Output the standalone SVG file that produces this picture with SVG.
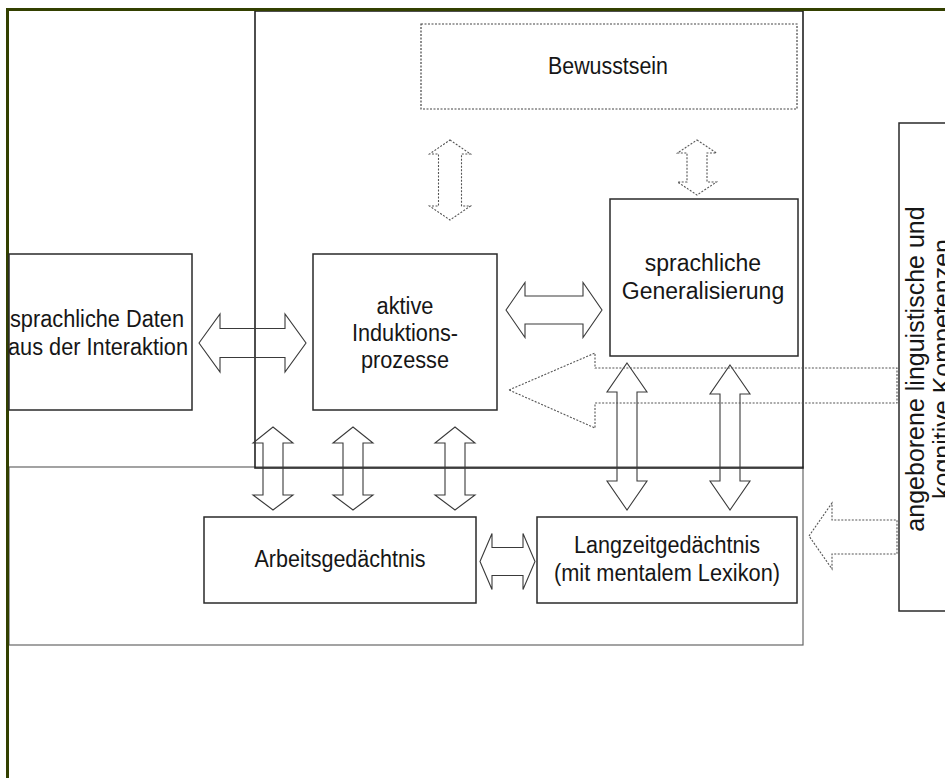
<svg xmlns="http://www.w3.org/2000/svg" width="945" height="778" viewBox="0 0 945 778">
<style>
  .box { fill: none; stroke: #2a2a2a; stroke-width: 1.5; }
  .dbox { fill: none; stroke: #444; stroke-width: 1.2; stroke-dasharray: 2 1.5; }
  .arr { fill: none; stroke: #3a3a3a; stroke-width: 1.1; stroke-linejoin: miter; }
  .darr { fill: none; stroke: #555; stroke-width: 1.1; stroke-dasharray: 2 1.5; }
  .t { font-family: "Liberation Sans", Arial, sans-serif; font-size: 23px; fill: #161616; text-anchor: middle; }
  .tr { font-family: "Liberation Sans", Arial, sans-serif; font-size: 25px; fill: #161616; text-anchor: middle; }
</style>
<rect width="945" height="778" fill="#ffffff"/>

<g id="frames">
  <rect x="9" y="467" width="794" height="178" fill="none" stroke="#666" stroke-width="1.2"/>
  <rect x="255" y="11" width="548" height="457" fill="none" stroke="#222" stroke-width="1.6"/>
  <path d="M7.5,778 V9.5 H945" fill="none" stroke="#334000" stroke-width="3"/>
</g>

<g id="connectors">
  <polygon class="arr" points="199,343 220,314 220,328.5 285,328.5 285,314 306,343 285,372 285,357.5 220,357.5 220,372"/>
  <polygon class="arr" points="506,310 525,282.5 525,296 583,296 583,282.5 602,310 583,337.5 583,324 525,324 525,337.5"/>
  <polygon class="arr" points="480,561.5 492,533.5 492,547.5 523,547.5 523,533.5 535,561.5 523,589.5 523,575.5 492,575.5 492,589.5"/>
  <polygon class="arr" points="273,427 293,443 283,443 283,495 293,495 273,510 253,495 263,495 263,443 253,443"/>
  <polygon class="arr" points="353,427 373,443 363,443 363,495 373,495 353,510 333,495 343,495 343,443 333,443"/>
  <polygon class="arr" points="455,427 475,443 465,443 465,495 475,495 455,510 435,495 445,495 445,443 435,443"/>
  <polygon class="arr" points="627,363 647,392 637,392 637,481 647,481 627,510 607,481 617,481 617,392 607,392"/>
  <polygon class="arr" points="730,365 750,394 740,394 740,481 750,481 730,510 710,481 720,481 720,394 710,394"/>
  <polygon class="darr" points="450,140 470.5,154 461.5,154 461.5,206 470.5,206 450,220 429.5,206 438.5,206 438.5,154 429.5,154"/>
  <polygon class="darr" points="697,140 716.5,153 707,153 707,182 716.5,182 697,195 677.5,182 687,182 687,153 677.5,153"/>
  <polygon class="darr" points="509,390 595,353 595,368 897,368 897,403 595,403 595,428"/>
  <polygon class="darr" points="809,536 832,503 832,520 897,520 897,554 832,554 832,569"/>
</g>

<g id="bewusstsein">
  <rect class="dbox" x="421" y="24" width="376" height="85"/>
  <text class="t" x="608" y="74" textLength="120" lengthAdjust="spacingAndGlyphs">Bewusstsein</text>
</g>

<g id="daten">
  <rect class="box" x="9" y="254" width="183" height="156"/>
  <text class="t" x="97" y="327" textLength="174" lengthAdjust="spacingAndGlyphs">sprachliche Daten</text>
  <text class="t" x="98" y="355" textLength="180" lengthAdjust="spacingAndGlyphs">aus der Interaktion</text>
</g>

<g id="induktion">
  <rect class="box" x="313" y="254" width="184" height="156"/>
  <text class="t" x="405" y="314" textLength="57" lengthAdjust="spacingAndGlyphs">aktive</text>
  <text class="t" x="405" y="341" textLength="106" lengthAdjust="spacingAndGlyphs">Induktions-</text>
  <text class="t" x="405" y="368" textLength="88" lengthAdjust="spacingAndGlyphs">prozesse</text>
</g>

<g id="generalisierung">
  <rect class="box" x="610" y="199" width="188" height="157"/>
  <text class="t" x="703" y="271">sprachliche</text>
  <text class="t" x="703" y="299">Generalisierung</text>
</g>

<g id="arbeitsgedaechtnis">
  <rect class="box" x="204" y="517" width="272" height="86"/>
  <text class="t" x="340" y="567" textLength="171" lengthAdjust="spacingAndGlyphs">Arbeitsgedächtnis</text>
</g>

<g id="langzeitgedaechtnis">
  <rect class="box" x="537" y="517" width="260" height="86"/>
  <text class="t" x="667" y="553" textLength="186" lengthAdjust="spacingAndGlyphs">Langzeitgedächtnis</text>
  <text class="t" x="667" y="581" textLength="226" lengthAdjust="spacingAndGlyphs">(mit mentalem Lexikon)</text>
</g>

<g id="kompetenzen">
  <rect class="box" x="899" y="123" width="60" height="488"/>
  <text class="tr" transform="translate(924,369) rotate(-90)">angeborene linguistische und</text>
  <text class="tr" transform="translate(951,369) rotate(-90)">kognitive Kompetenzen</text>
</g>
</svg>
